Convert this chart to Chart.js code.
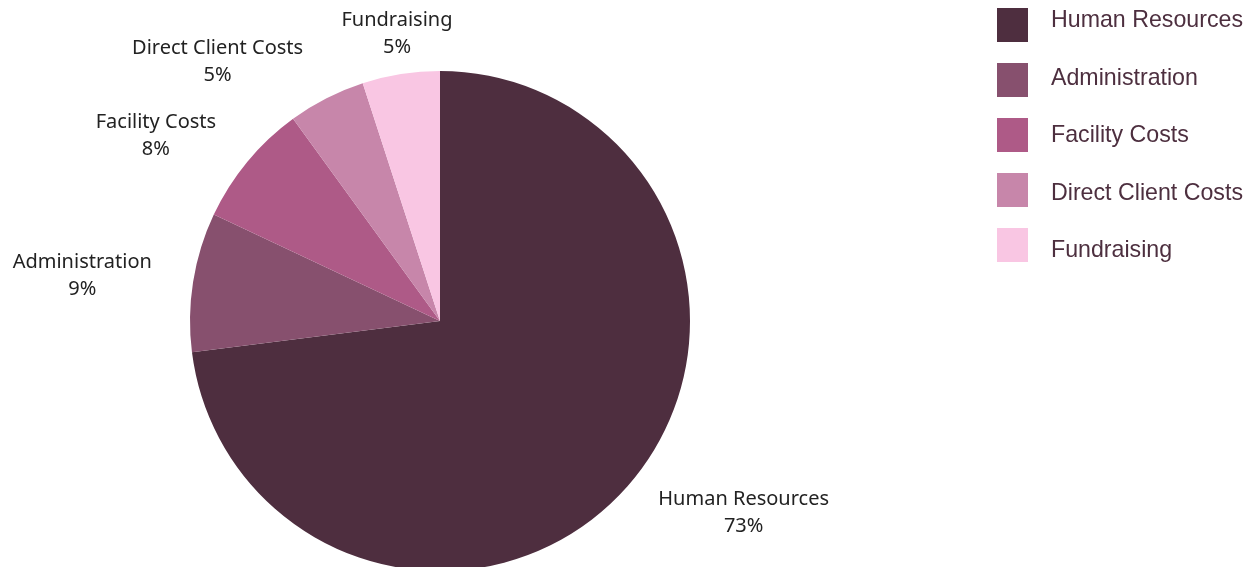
<!DOCTYPE html>
<html>
<head>
<meta charset="utf-8">
<script src="https://cdn.jsdelivr.net/npm/chart.js@4"></script>
<style>
  html, body { margin: 0; padding: 0; background: #ffffff; width: 1256px; height: 567px; overflow: hidden; }
  #wrap { position: absolute; left: 0; top: 0; width: 1256px; height: 640px; }
  #legend { position: absolute; left: 997px; top: 0; }
  .box { position: absolute; left: 0; width: 31px; height: 34px; }
  .txt { position: absolute; left: 54px; white-space: nowrap; font-family: "Liberation Sans", Arial, sans-serif; font-size: 23.2px; line-height: 24px; color: #4d2f3f; }
</style>
</head>
<body>
<div id="wrap"><canvas id="c"></canvas></div>
<div id="legend"></div>
<script>
const categories = ["Human Resources", "Administration", "Facility Costs", "Direct Client Costs", "Fundraising"];
const shares = [73, 9, 8, 5, 5];
const colors = ["#4e2e3f", "#87506e", "#ae5a87", "#c786aa", "#f9c6e3"];

// HTML legend built from the arrays
const legend = document.getElementById('legend');
categories.forEach((name, i) => {
  const b = document.createElement('div');
  b.className = 'box';
  b.style.top = (8 + i * 55) + 'px';
  b.style.background = colors[i];
  const t = document.createElement('div');
  t.className = 'txt';
  t.style.top = (7 + i * 57.5) + 'px';
  t.textContent = name;
  legend.appendChild(b);
  legend.appendChild(t);
});

const outsideLabels = {
  id: 'outsideLabels',
  afterDatasetsDraw(chart) {
    const ctx = chart.ctx;
    const meta = chart.getDatasetMeta(0);
    const ds = chart.data.datasets[0];
    const total = ds.data.reduce((a, b) => a + b, 0);
    ctx.save();
    ctx.font = '20px "Noto Sans", "Open Sans", sans-serif';
    ctx.fillStyle = '#222222';
    ctx.textAlign = 'center';
    ctx.textBaseline = 'middle';
    meta.data.forEach((arc, i) => {
      const p = arc.getProps(['x', 'y', 'startAngle', 'endAngle', 'outerRadius'], true);
      const mid = (p.startAngle + p.endAngle) / 2;
      const dx = Math.cos(mid), dy = Math.sin(mid);
      const D = p.outerRadius + 25;
      const ax = p.x + dx * D, ay = p.y + dy * D;
      const lines = [chart.data.labels[i], Math.round(ds.data[i] / total * 100) + '%'];
      const w = Math.max(...lines.map(l => ctx.measureText(l).width));
      const lh = 27;
      const h = 26 * lines.length;
      const s = Math.sign(dx) * Math.min(1, Math.max(0, (Math.abs(dx) - 0.2) / 0.25));
      const extra = 12 + Math.max(0, Math.abs(dx) - 0.95) * 120;
      const cx = ax + s * (w / 2 + extra);
      const cy = ay + dy * h / 2 * 0.6;
      lines.forEach((l, k) => ctx.fillText(l, cx, cy + (k - (lines.length - 1) / 2) * lh));
    });
    ctx.restore();
  }
};

new Chart(document.getElementById('c'), {
  type: 'pie',
  data: {
    labels: categories,
    datasets: [{
      data: shares,
      backgroundColor: colors,
      borderWidth: 0
    }]
  },
  options: {
    responsive: true,
    maintainAspectRatio: false,
    animation: false,
    layout: { padding: { left: 190, right: 566, top: 71, bottom: 69 } },
    plugins: {
      legend: { display: false },
      tooltip: { enabled: false }
    }
  },
  plugins: [outsideLabels]
});
</script>
</body>
</html>
